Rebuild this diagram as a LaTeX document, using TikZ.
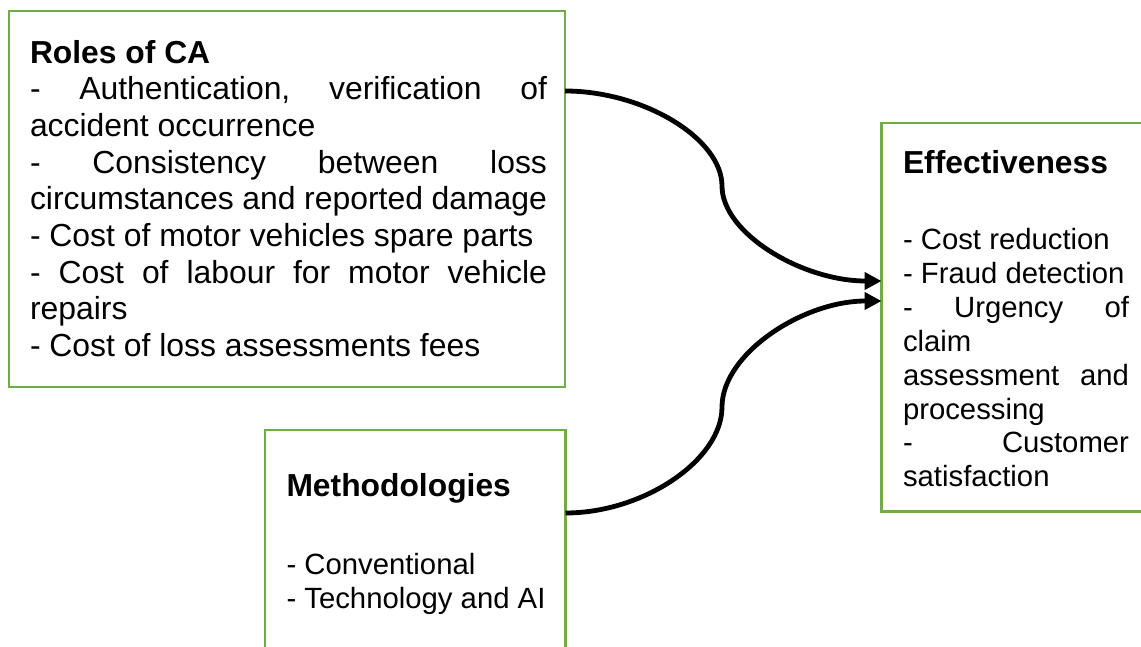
\documentclass[tikz,border=0pt]{standalone}
\usepackage{fontspec}
\setmainfont{Liberation Sans}
\usetikzlibrary{arrows.meta}
\definecolor{panelgreen}{RGB}{112,173,71}
\frenchspacing
% justified lines: words spread over the full text width of a panel
\newcommand\rolesline[1]{\makebox[517pt][s]{#1}}
\newcommand\effline[1]{\makebox[226pt][s]{#1}}
\begin{document}
\begin{tikzpicture}[x=1pt,y=-1pt,
  panel/.style={draw=panelgreen, line width=2.5pt, inner sep=0pt, outer sep=0pt, anchor=north west},
  textline/.style={anchor=base west, inner sep=0pt, outer sep=0pt},
  bigtext/.style={font=\fontsize{31.9pt}{36.65pt}\selectfont},
  smalltext/.style={font=\fontsize{29.3pt}{33.8pt}\selectfont},
  titletext/.style={font=\fontsize{31.8pt}{36.6pt}\selectfont\bfseries},
  link/.style={line width=4.8pt, -{Triangle[length=17pt,width=17pt]}}]
\clip (0,0) rectangle (1141,647);

% panels
\node[panel, minimum width=556pt, minimum height=376pt] (roles) at (9,11) {};
\node[panel, minimum width=300.5pt, minimum height=280pt] (meth) at (265,430) {};
\node[panel, minimum width=290pt, minimum height=388.7pt] (eff) at (881.5,123) {};

% Roles of CA
\node[textline, titletext] (roles-title) at (30,63.3) {Roles of CA};
\foreach \txt [count=\i] in {
  {\rolesline{- Authentication, verification of}},
  {accident occurrence},
  {\rolesline{- Consistency between loss}},
  {\rolesline{circumstances and reported damage}},
  {- Cost of motor vehicles spare parts},
  {\rolesline{- Cost of labour for motor vehicle}},
  {repairs},
  {- Cost of loss assessments fees}}
  \node[textline, bigtext] (roles-\i) at (30,{63.3+36.65*\i}) {\txt};

% Methodologies
\node[textline, titletext] (meth-title) at (286.5,496.7) {Methodologies};
\node[textline, smalltext] (meth-1) at (286.5,574) {- Conventional};
\node[textline, smalltext] (meth-2) at (286.5,608) {- Technology and AI};

% Effectiveness
\node[textline, titletext] (eff-title) at (903,173.3) {Effectiveness};
\foreach \txt [count=\i] in {
  {- Cost reduction},
  {- Fraud detection},
  {\effline{- Urgency of}},
  {claim},
  {\effline{assessment and}},
  {processing},
  {\effline{- Customer}},
  {satisfaction}}
  \node[textline, smalltext] (eff-\i) at (903,{250+33.8*(\i-1)}) {\txt};

% connector ends and bends
\coordinate (roles-out) at ([yshift=-80pt]roles.north east);
\coordinate (meth-out) at ([yshift=-83pt]meth.north east);
\coordinate (eff-in1) at ([yshift=-158pt]eff.north west);
\coordinate (eff-in2) at ([yshift=-178pt]eff.north west);
\coordinate (bend1) at (722,186);
\coordinate (bend2) at (722,407);

\draw[link] (roles-out) .. controls +(78.5,0) and +(0,-47.5) .. (bend1)
  .. controls +(0,47.5) and +(-79,0) .. (eff-in1);
\draw[link] (meth-out) .. controls +(78,0) and +(0,53) .. (bend2)
  .. controls +(0,-53) and +(-79,0) .. (eff-in2);
\end{tikzpicture}
\end{document}
